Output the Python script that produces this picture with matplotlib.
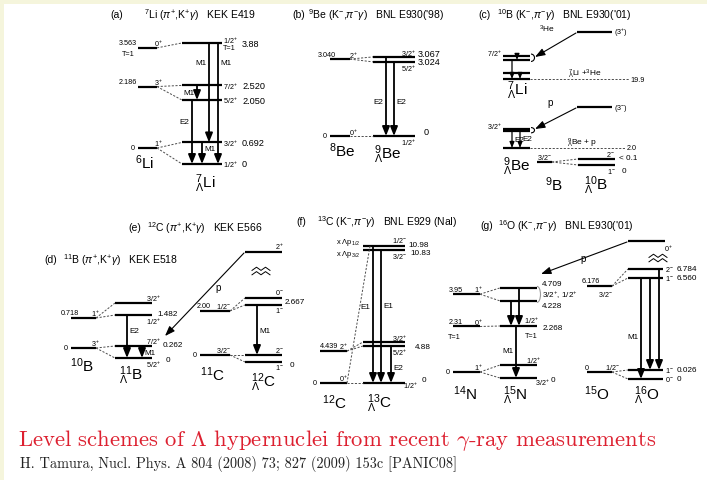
import numpy as np
import matplotlib
matplotlib.use("Agg")
import matplotlib.pyplot as plt
from matplotlib.patches import Arc, Rectangle, FancyArrowPatch

plt.rcParams["font.family"] = ["Liberation Sans", "DejaVu Sans"]
plt.rcParams["mathtext.fontset"] = "custom"
plt.rcParams["mathtext.rm"] = "Liberation Sans"
plt.rcParams["mathtext.it"] = "Liberation Sans:italic"
plt.rcParams["mathtext.bf"] = "Liberation Sans:bold"
plt.rcParams["mathtext.sf"] = "Liberation Sans"

# Level energies in MeV. Strings are printed next to their level,
# plain floats are levels drawn without an energy label.

# (a) 7Li(pi+,K+ gamma)  KEK E419
LI6_E = ["0", "2.186", "3.563"]
LI6_JP = ["1+", "3+", "0+"]
LI7L_E = ["0", "0.692", "2.050", "2.520", "3.88"]
LI7L_JP = ["1/2+", "3/2+", "5/2+", "7/2+", "1/2+"]
LI7L_LINKS = [(0, 0), (0, 1), (1, 2), (1, 3), (2, 4)]
LI7L_GAMMAS = [(4, 0, "M1"), (4, 1, "M1"), (3, 2, "M1"), (2, 0, "E2"), (1, 0, "M1")]

# (b) 9Be(K-,pi- gamma)  BNL E930('98)
BE8_E = ["0", "3.040"]
BE8_JP = ["0+", "2+"]
BE9L_E = ["0", "3.024", "3.067"]
BE9L_JP = ["1/2+", "5/2+", "3/2+"]
BE9L_LINKS = [(0, 0), (1, 1), (1, 2)]
BE9L_GAMMAS = [(2, 0, "E2"), (1, 0, "E2")]

# (c) 10B(K-,pi- gamma)  BNL E930('01)
B10L_THRESH = ["19.9", "2.0"]          # 7LiL + 3He, 9BeL + p
B9_E = ["0"]
B9_JP = ["3/2-"]
B10L_E = ["0", 0.1]
B10L_JP = ["1-", "2-"]

# (d) 11B(pi+,K+ gamma)  KEK E518
B10_E = ["0", "0.718"]
B10_JP = ["3+", "1+"]
B11L_E = ["0", "0.262", "1.482", 1.8]
B11L_JP = ["5/2+", "7/2+", "1/2+", "3/2+"]
B11L_LINKS = [(0, 0), (0, 1), (1, 2), (1, 3)]
B11L_GAMMAS = [(2, 0, "E2"), (1, 0, "M1")]

# (e) 12C(pi+,K+ gamma)  KEK E566
C11_E = ["0", "2.00"]
C11_JP = ["3/2-", "1/2-"]
C12L_E = ["0", 0.161, "2.667", 2.667]
C12L_JP = ["1-", "2-", "1-", "0-"]
C12L_LINKS = [(0, 0), (0, 1), (1, 2), (1, 3)]
C12L_GAMMAS = [(2, 1, "M1")]

# (f) 13C(K-,pi- gamma)  BNL E929 (NaI)
C12_E = ["0", "4.439"]
C12_JP = ["0+", "2+"]
C13L_E = ["0", "4.88", 4.88, "10.83", "10.98"]
C13L_JP = ["1/2+", "5/2+", "3/2+", "3/2-", "1/2-"]
C13L_LINKS = [(0, 0), (1, 1), (1, 2)]
C13L_FAR_LINK = (0, 4)
C13L_GAMMAS = [(4, 0, "E1"), (3, 0, "E1"), (1, 0, "E2")]

# (g) 16O(K-,pi- gamma)  BNL E930('01)
N14_E = ["0", "2.31", "3.95"]
N14_JP = ["1+", "0+", "1+"]
N15L_E = ["0", 0.1, "2.268", "4.228", "4.709"]
N15L_JP = ["3/2+", "1/2+", "1/2+", "", ""]
N15L_LINKS = [(0, 0), (0, 1), (1, 2), (2, 3), (2, 4)]
N15L_GAMMAS = [(3, 2, ""), (4, 2, ""), (2, 0, "M1")]
O15_E = ["0", "6.176"]
O15_JP = ["1/2-", "3/2-"]
O16L_E = ["0", "0.026", "6.560", "6.784"]
O16L_JP = ["0-", "1-", "1-", "2-"]
O16L_LINKS = [(0, 0), (0, 1), (1, 2), (1, 3)]
O16L_GAMMAS = [(2, 0, "M1"), (2, 1, ""), (3, 1, "")]


fig = plt.figure(figsize=(7.07, 4.81), dpi=100)
fig.patch.set_facecolor("#f5f5dc")
ax = fig.add_axes([0, 0, 1, 1])
ax.set_xlim(0, 707)
ax.set_ylim(481, 0)
ax.axis("off")
ax.add_patch(Rectangle((4, 5), 710, 480, facecolor="white", edgecolor="none", zorder=0))

SMALL = 5.2
MID = 5.9


def lin(ppm, top=25.0):
    return [0.0, top], [0.0, ppm * top]


def levels(x0, x1, y0, energies, scale, gap=0.0, lw=1.6):
    """Draw a column of levels; close doublets are pushed apart by `gap`."""
    e = np.array([float(v) for v in energies])
    y = y0 - np.interp(e, *scale)
    order = np.argsort(e, kind="stable")
    for lo, hi in zip(order[:-1], order[1:]):
        y[hi] = min(y[hi], y[lo] - gap)
    ax.hlines(y, x0, x1, color="k", lw=lw)
    return y


def txt(x, y, s, size=SMALL, ha="left", va="center", **kw):
    ax.text(x, y, s, fontsize=size, ha=ha, va=va, **kw)


def jp(s):
    return s[:-1] + "$^{%s}$" % s[-1] if s else ""


def nuc(sym, a, hyper=False, x=0, y=0, size=11):
    s = r"${}^{%d}_{\Lambda}$%s" % (a, sym) if hyper else r"$^{%d}$%s" % (a, sym)
    txt(x, y, s, size=size, ha="center")


def title(xt, xs, y, tag, s):
    txt(xt, y, tag, size=7.5)
    txt(xs, y, s, size=7.5)


def link(xa, ya, xb, yb):
    ax.plot([xa, xb], [ya, yb], color="0.3", lw=0.7, ls=(0, (2.2, 1.6)))


def links(xa, ya, xb, yb, pairs):
    for i, j in pairs:
        link(xa, ya[i], xb, yb[j])


def arrow(p_from, p_to, style, lw):
    ax.add_patch(FancyArrowPatch(p_from, p_to, arrowstyle=style, mutation_scale=10,
                                 color="k", lw=lw, shrinkA=0, shrinkB=0))


def gamma(x, y_from, y_to, label="", side="r", frac=0.5, mini=False):
    if mini:
        arrow((x, y_from), (x, y_to), "-|>,head_length=0.35,head_width=0.14", 0.9)
    else:
        arrow((x, y_from), (x, y_to), "-|>,head_length=0.55,head_width=0.22", 1.3)
    if label:
        dx = 2.5 if side == "r" else -2.5
        txt(x + dx, y_from + frac * (y_to - y_from), label, size=MID,
            ha="left" if side == "r" else "right")


def gammas(y, spec, xs, sides=None, fracs=None, mini=False):
    sides = sides or "r" * len(spec)
    fracs = fracs or [0.5] * len(spec)
    for (i, j, lab), x, sd, f in zip(spec, xs, sides, fracs):
        gamma(x, y[i], y[j], lab, sd, f, mini)


def core_labels(x0, x1, y, energies, spins, ex, sx, dy=-5):
    for yi, e, s in zip(y, energies, spins):
        if float(e) == 0:
            txt(x0 - 3, yi, e, ha="right")
        else:
            txt(ex, yi + dy, e, ha="right")
        txt(sx, yi + dy, jp(s), ha="center")


def knock(x_from, y_from, x_to, y_to):
    arrow((x_from, y_from), (x_to, y_to), "-|>,head_length=0.6,head_width=0.22", 0.8)


def wavy(xc, yc):
    xs = xc + np.array([-9, -4.5, 0, 4.5, 9])
    zz = np.array([1.6, -1.6, 1.6, -1.6, 1.6])
    for d in (-2.2, 2.2):
        ax.plot(xs, yc + d + zz, color="k", lw=0.7)


def bracket(x, y_top, y_bot, color="k"):
    h = (y_bot - y_top) + 3
    ax.add_patch(Arc((x, (y_top + y_bot) / 2), 7, h, theta1=-90, theta2=90,
                     color=color, lw=0.8))


# ---------------- (a) 7Li(pi+,K+ gamma)
title(110, 144, 15, "(a)", r"$^{7}$Li ($\pi^{+}$,K$^{+}\gamma$)   KEK E419")
yc = levels(138, 157, 149, LI6_E, lin(28.1))
yh = levels(182, 222, 165, LI7L_E, lin(31.2))
links(157, yc, 182, yh, LI7L_LINKS)
core_labels(138, 157, yc, LI6_E, LI6_JP, ex=137, sx=158)
txt(122, yc[2] + 6, "T=1")
for yi, e, s, dy in zip(yh, LI7L_E, LI7L_JP, [0, 0, 0, 0, -3]):
    txt(223, yi + dy, jp(s))
    txt(242, yi + (1 if dy else 0), e, size=6.6)
txt(223, yh[4] + 5, "T=1")
gammas(yh, LI7L_GAMMAS, [218, 209, 197, 192, 202], "rlllr", [0.16, 0.2, 0.5, 0.34, 0.3])
nuc("Li", 6, x=145, y=163)
nuc("Li", 7, True, x=205, y=184)

# ---------------- (b) 9Be(K-,pi- gamma)
title(292, 308, 15, "(b)", r"$^{9}$Be (K$^{-}$,$\pi^{-}\gamma$)   BNL E930('98)")
yc = levels(330, 350, 137, BE8_E, lin(25.3))
yh = levels(373, 415, 137, BE9L_E, lin(24.5), gap=5)
links(350, yc, 373, yh, BE9L_LINKS)
core_labels(330, 350, yc, BE8_E, BE8_JP, ex=336, sx=353, dy=-4.5)
for yi, e, s, sdy, ex, edy in zip(yh, BE9L_E, BE9L_JP, [6, 6, -4], [424, 418, 418], [-4, 0, -3]):
    txt(416, yi + sdy, jp(s), ha="right")
    txt(ex, yi + edy, e, size=6.6)
gammas(yh, BE9L_GAMMAS, [386, 394], "lr", [0.56, 0.53])
nuc("Be", 8, x=342, y=151)
nuc("Be", 9, True, x=388, y=155)

# ---------------- (c) 10B(K-,pi- gamma)
title(478, 497, 15, "(c)", r"$^{10}$B (K$^{-}$,$\pi^{-}\gamma$)   BNL E930('01)")
# 7LiL + 3He cluster: miniature of the 7LiL scheme
yl = levels(503, 530, 80, LI7L_E[:4], lin(9.3))
gammas(yl, [(3, 2, ""), (2, 0, ""), (1, 0, "")], [517, 512, 520], mini=True)
txt(502, yl[3] - 3, jp(LI7L_JP[3]), ha="right")
bracket(531, yl[3], yl[2])
link(530, yl[0], 629, yl[0])
txt(630, yl[0], B10L_THRESH[0])
txt(585, yl[0] - 6, r"${}^{7}_{\Lambda}$Li +$^{3}$He", size=6, ha="center")
ax.hlines(33, 577, 612, color="k", lw=1.6)
txt(614, 33, r"(3$^{+}$)")
knock(576, 34, 535, 58)
txt(547, 29, r"$^{3}$He", size=6, ha="center")
nuc("Li", 7, True, x=517, y=91)
# 9BeL + p cluster
yb = levels(503, 530, 149, BE9L_E, lin(5.5), gap=2.3)
gammas(yb, BE9L_GAMMAS, [520, 512], mini=True)
txt(502, yb[2] - 3, jp(BE9L_JP[2]), ha="right")
bracket(531, yb[2], yb[1])
link(530, yb[0], 625, yb[0])
txt(627, yb[0], B10L_THRESH[1])
txt(582, yb[0] - 6, r"${}^{9}_{\Lambda}$Be + p", size=6, ha="center")
ax.hlines(108, 577, 612, color="k", lw=1.6)
txt(614, 108, r"(3$^{-}$)")
knock(576, 109, 535, 130)
txt(550, 103, "p", size=7, ha="center")
nuc("Be", 9, True, x=517, y=167)
# 9B core and the 10BL ground doublet
y9 = levels(537, 552, 163, B9_E, lin(10))
txt(544, y9[0] - 5, jp(B9_JP[0]), ha="center")
y10 = levels(578, 615, 166, B10L_E, lin(10), gap=6)
links(552, y9, 578, y10, [(0, 0), (0, 1)])
txt(616, y10[0] + 6, jp(B10L_JP[0]), ha="right")
txt(615, y10[1] - 5, jp(B10L_JP[1]), ha="right")
txt(622, y10[0] + 6, B10L_E[0], size=MID)
txt(619, y10[1] - 1, "< %g" % B10L_E[1], size=MID)
nuc("B", 9, x=554, y=185)
nuc("B", 10, True, x=596, y=186)

# ---------------- (d) 11B(pi+,K+ gamma)
title(44, 63, 260, "(d)", r"$^{11}$B ($\pi^{+}$,K$^{+}\gamma$)   KEK E518")
yc = levels(71, 96, 349, B10_E, lin(41.8))
yh = levels(115, 152, 359, B11L_E, lin(29), gap=12)
links(96, yc, 115, yh, B11L_LINKS)
core_labels(71, 96, yc, B10_E, B10_JP, ex=79, sx=95)
for yi, e, s, sdy, ex, edy in zip(yh, B11L_E, B11L_JP, [6, -5, 6, -5],
                                 [166, 163, 157, 0], [2, -1, -2, 0]):
    txt(153, yi + sdy, jp(s), ha="center")
    if isinstance(e, str):
        txt(ex, yi + edy, e, size=MID)
gammas(yh, B11L_GAMMAS, [127, 142], "rr", [0.37, 0.58])
nuc("B", 10, x=82, y=366)
nuc("B", 11, True, x=131, y=376)

# ---------------- (e) 12C(pi+,K+ gamma)
title(128, 147, 228, "(e)", r"$^{12}$C ($\pi^{+}$,K$^{+}\gamma$)   KEK E566")
yc = levels(200, 230, 356, C11_E, lin(22))
yh = levels(245, 282, 363, C12L_E, lin(21.4), gap=7)
links(230, yc, 245, yh, C12L_LINKS)
core_labels(200, 230, yc, C11_E, C11_JP, ex=211, sx=223)
for yi, s, sdy in zip(yh, C12L_JP, [5, -5, 5, -6]):
    txt(279, yi + sdy, jp(s), ha="center")
txt(290, yh[0] + 3, C12L_E[0], size=MID)
txt(285, yh[2] - 3, C12L_E[2], size=MID)
gammas(yh, C12L_GAMMAS, [257], "r", [0.52])
ax.hlines(253, 245, 282, color="k", lw=1.6)
txt(279, 247, r"2$^{+}$", ha="center")
wavy(261, 272)
knock(244, 254, 165, 337)
txt(218, 288, "p", size=7, ha="center")
nuc("C", 11, x=212, y=375)
nuc("C", 12, True, x=263, y=383)

# ---------------- (f) 13C(K-,pi- gamma)
title(296, 317, 222, "(f)", r"$^{13}$C (K$^{-}$,$\pi^{-}\gamma$)   BNL E929 (NaI)")
yc = levels(320, 347, 384, C12_E, lin(7.2))
yh = levels(363, 405, 384, C13L_E,
            ([0, 4.88, 10.83, 25.0], [0, 37, 133, 133 + 14.17 * 16]), gap=4)
links(347, yc, 363, yh, C13L_LINKS)
i, j = C13L_FAR_LINK
link(347, yc[i], 370, yh[j])
core_labels(320, 347, yc, C12_E, C12_JP, ex=338, sx=343, dy=-5.5)
txt(403, yh[0] + 2, jp(C13L_JP[0]))
for k, sdy in zip(range(1, 5), [6, -4, 6, -6]):
    txt(399, yh[k] + sdy, jp(C13L_JP[k]), ha="center")
txt(422, yh[0] - 3, C13L_E[0], size=MID)
txt(415, yh[1] + 1, C13L_E[1], size=MID)
txt(410, yh[3] + 3, C13L_E[3], size=MID)
txt(408, yh[4] - 1, C13L_E[4], size=MID)
txt(360, yh[4] - 4, r"x $\Lambda$p$_{1/2}$", size=5.4, ha="right")
txt(360, yh[3] + 3, r"x $\Lambda$p$_{3/2}$", size=5.4, ha="right")
gammas(yh, C13L_GAMMAS, [373, 381, 391], "lrr", [0.44, 0.42, 0.57])
nuc("C", 12, x=334, y=403)
nuc("C", 13, True, x=379, y=404)

# ---------------- (g) 16O(K-,pi- gamma)
title(480, 498, 226, "(g)", r"$^{16}$O (K$^{-}$,$\pi^{-}\gamma$)   BNL E930('01)")
yn = levels(453, 480, 373, N14_E, lin(19.7))
yh = levels(500, 537, 379, N15L_E, ([0, 2.268, 25.0], [0, 52, 52 + 22.732 * 12.8]), gap=13)
links(480, yn, 500, yh, N15L_LINKS)
core_labels(453, 480, yn, N14_E, N14_JP, ex=463, sx=478)
txt(448, yn[1] + 10, "T=1")
txt(542, yh[0] + 4, jp(N15L_JP[0]), ha="center")
txt(551, yh[0] + 2, N15L_E[0], size=MID)
txt(533, yh[1] - 5, jp(N15L_JP[1]), ha="center")
txt(531, yh[2] - 6, jp(N15L_JP[2]), ha="center")
txt(531, yh[2] + 10, "T=1", ha="center")
txt(543, yh[2] + 2, N15L_E[2], size=MID)
txt(542, yh[4] - 4, N15L_E[4], size=MID)
txt(542, (yh[3] + yh[4]) / 2, jp("3/2+") + ", " + jp("1/2+"), size=MID)
txt(542, yh[3] + 5, N15L_E[3], size=MID)
bracket(537, yh[4], yh[3], color="0.6")
gammas(yh, N15L_GAMMAS, [511, 519, 516], "rrl", [0.5, 0.5, 0.48])
ax.hlines(242, 628, 665, color="k", lw=1.6)
txt(668, 249, r"0$^{+}$", ha="center")
wavy(658, 259)
knock(627, 243, 541, 275)
txt(583, 259, "p", size=7, ha="center")
yo = levels(587, 612, 373, O15_E, lin(13.9))
txt(600, yo[1] - 6, O15_E[1], ha="right")
txt(605, yo[1] + 7, jp(O15_JP[1]), ha="center")
txt(587, yo[0] - 4, O15_E[0], ha="center")
txt(612, yo[0] - 5, jp(O15_JP[0]), ha="center")
y16 = levels(628, 663, 380, O16L_E, lin(15.4), gap=9)
links(612, yo, 628, y16, O16L_LINKS)
for yi, e, s in zip(y16, O16L_E, O16L_JP):
    txt(665, yi, jp(s))
    txt(677, yi, e, size=MID)
gammas(y16, O16L_GAMMAS, [641, 650, 659], "lrr", [0.58, 0.5, 0.5])
nuc("N", 14, x=465, y=394)
nuc("N", 15, True, x=515, y=396)
nuc("O", 15, x=597, y=394)
nuc("O", 16, True, x=647, y=396)

# ---------------- caption
ax.text(18, 441, r"Level schemes of $\Lambda$ hypernuclei from recent $\gamma$-ray measurements",
        fontsize=16.3, family="cmr10", math_fontfamily="cm", color="#dd2030", va="center")
ax.text(20, 464, "H. Tamura, Nucl. Phys. A 804 (2008) 73; 827 (2009) 153c [PANIC08]",
        fontsize=10.3, family="cmr10", color="#222222", va="center")

fig.savefig("out.png", dpi=100, facecolor=fig.get_facecolor())
